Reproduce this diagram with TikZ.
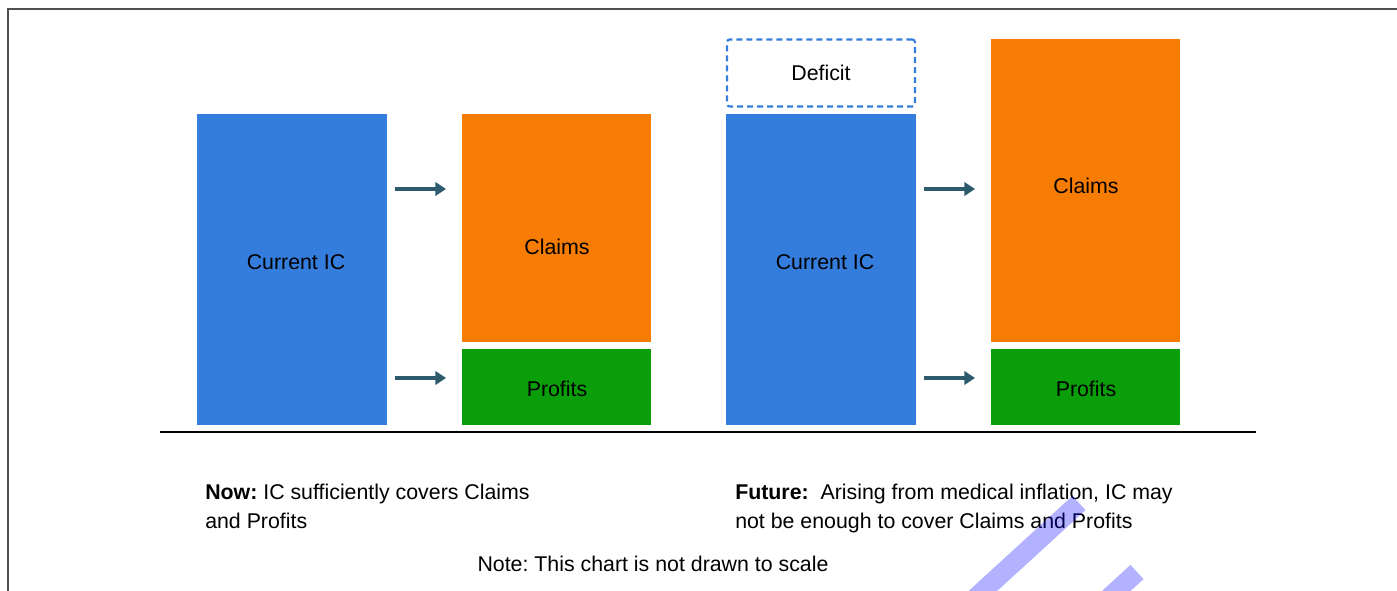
\documentclass[tikz,border=0pt]{standalone}
\usepackage{fontspec}
\setmainfont{Liberation Sans}
\usetikzlibrary{arrows.meta}
\definecolor{icblue}{RGB}{52,125,221}
\definecolor{clorange}{RGB}{246,124,3}
\definecolor{prgreen}{RGB}{10,158,10}
\definecolor{arrcol}{RGB}{45,90,108}
\definecolor{framegray}{RGB}{80,80,80}
\tikzset{
  bar/.style={draw=none, inner sep=0pt, outer sep=0pt, font=\fontsize{16}{19}\selectfont, text=black},
  flowarrow/.style={draw=arrcol, line width=2.6pt, -{Triangle[length=8pt,width=10pt]}, shorten <=6pt, shorten >=12pt},
  caption/.style={anchor=base west, inner sep=0pt, font=\frenchspacing\fontsize{16}{19}\selectfont},
  mark stroke/.style={draw=blue, draw opacity=0.3, line width=14.5pt}
}
\begin{document}
\begin{tikzpicture}[x=0.75pt, y=-0.75pt]
\useasboundingbox (0,0) rectangle (1397,591);
% frame
\draw[framegray, line width=1.5pt] (8,591) -- (8,9) -- (1397,9);
% left group
\node[bar, fill=icblue, minimum width=142.5pt, minimum height=233.25pt] (icL) at (292,269.5) {};
\node[bar] (icLt) at (296,262) {Current IC};
\node[bar, fill=clorange, minimum width=141.75pt, minimum height=171pt] (clL) at (556.5,228) {};
\node[bar] (clLt) at (557,247) {Claims};
\node[bar, fill=prgreen, minimum width=141.75pt, minimum height=57pt] (prL) at (556.5,387) {};
\node[bar] (prLt) at (557,389) {Profits};
% right group
\node[bar, draw=icblue, line width=1.6pt, dash pattern=on 4.5pt off 3pt, rounded corners=2pt, minimum width=141pt, minimum height=50.25pt] (def) at (821,73) {};
\node[bar] (deft) at (821,73) {Deficit};
\node[bar, fill=icblue, minimum width=142.5pt, minimum height=233.25pt] (icR) at (821,269.5) {};
\node[bar] (icRt) at (825,262) {Current IC};
\node[bar, fill=clorange, minimum width=141.75pt, minimum height=227.25pt] (clR) at (1085.5,190.5) {};
\node[bar] (clRt) at (1086,186) {Claims};
\node[bar, fill=prgreen, minimum width=141.75pt, minimum height=57pt] (prR) at (1085.5,387) {};
\node[bar] (prRt) at (1086,389) {Profits};
% arrows
\coordinate (r1) at (0,189);
\coordinate (r2) at (0,378);
\draw[flowarrow] (icL.east |- r1) -- (clL.west |- r1);
\draw[flowarrow] (icL.east |- r2) -- (prL.west |- r2);
\draw[flowarrow] (icR.east |- r1) -- (clR.west |- r1);
\draw[flowarrow] (icR.east |- r2) -- (prR.west |- r2);
% baseline
\coordinate (b1) at (160,432);
\coordinate (b2) at (1256,432);
\draw[black, line width=1.3pt] (b1) -- (b2);
% captions
\node[caption] (now1) at (205,500) {\textbf{Now:} IC sufficiently covers Claims};
\node[caption] (now2) at (205,529) {and Profits};
\node[caption] (fut1) at (735,500) {\textbf{Future:}\ \ Arising from medical inflation, IC may};
\node[caption] (fut2) at (735,529) {not be enough to cover Claims and Profits};
\node[caption, anchor=base] (note) at (653,571) {Note: This chart is not drawn to scale};
% overlay strokes
\begin{scope}
\clip (0,0) rectangle (1397,591);
\coordinate (s1a) at (1079,503);
\coordinate (s1b) at (961,611);
\coordinate (s2a) at (1137,572);
\coordinate (s2b) at (1101,605);
\draw[mark stroke] (s1a) -- (s1b);
\draw[mark stroke] (s2a) -- (s2b);
\end{scope}
\end{tikzpicture}
\end{document}
